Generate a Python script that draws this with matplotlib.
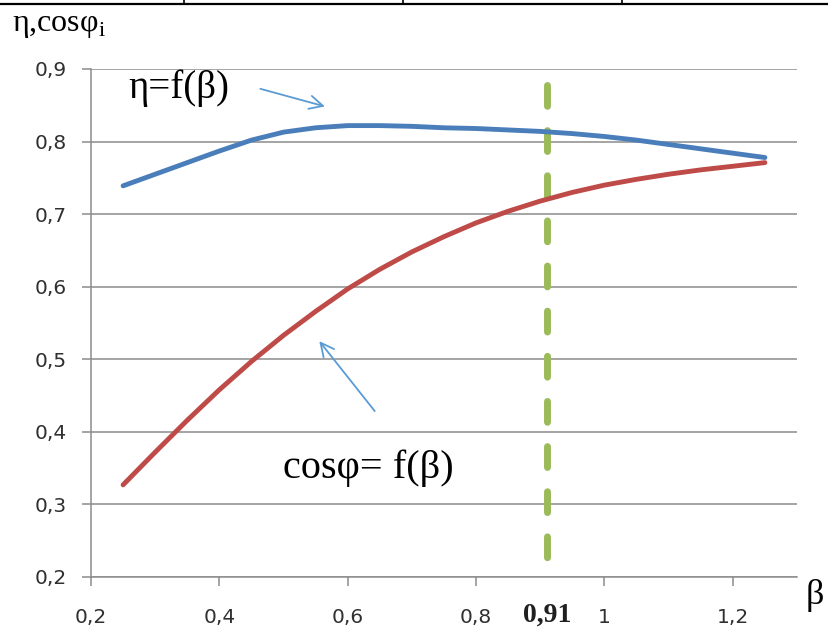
import numpy as np
import matplotlib
matplotlib.use("Agg")
import matplotlib.pyplot as plt
from matplotlib.lines import Line2D
import matplotlib.transforms as mtransforms

# values
beta = [0.25, 0.30, 0.35, 0.40, 0.45, 0.50, 0.55, 0.60, 0.65, 0.70, 0.75,
        0.80, 0.85, 0.90, 0.95, 1.00, 1.05, 1.10, 1.15, 1.20, 1.25]
eta = [0.739, 0.755, 0.771, 0.787, 0.802, 0.813, 0.819, 0.822, 0.822, 0.821, 0.819,
       0.818, 0.816, 0.814, 0.811, 0.807, 0.802, 0.796, 0.790, 0.784, 0.778]
cos_phi = [0.327, 0.372, 0.416, 0.458, 0.497, 0.533, 0.566, 0.597, 0.624, 0.648, 0.669,
           0.688, 0.704, 0.718, 0.730, 0.740, 0.748, 0.755, 0.761, 0.766, 0.771]
x_ticks = [0.2, 0.4, 0.6, 0.8, 1.0, 1.2]
x_tick_labels = ["0,2", "0,4", "0,6", "0,8", "1", "1,2"]
y_ticks = [0.2, 0.3, 0.4, 0.5, 0.6, 0.7, 0.8, 0.9]
y_tick_labels = ["0,2", "0,3", "0,4", "0,5", "0,6", "0,7", "0,8", "0,9"]
beta_opt = 0.91

plt.rcParams['mathtext.fontset'] = 'custom'
plt.rcParams['mathtext.rm'] = 'Liberation Serif'

BLUE = '#4a7ebb'
RED = '#be4b48'
GREEN = '#9bbb59'
GRID = '#8c8c8c'
ARROW = '#5b9bd5'
SERIF = 'Liberation Serif'
TICKFONT = 'DejaVu Sans'

fig = plt.figure(figsize=(8.29, 6.31), dpi=100)
ax = fig.add_axes([91 / 829, 1 - 577 / 631, (797 - 91) / 829, (577 - 69) / 631])

ax.set_xlim(0.2, 1.3)
ax.set_ylim(0.2, 0.9)

ax.set_yticks(y_ticks)
ax.set_yticklabels(y_tick_labels)
ax.set_xticks(x_ticks)
ax.set_xticklabels(x_tick_labels)
for lab in ax.get_xticklabels() + ax.get_yticklabels():
    lab.set_fontfamily(TICKFONT)
    lab.set_fontsize(14.5)
    lab.set_color('#303030')

ax.tick_params(axis='both', direction='out', length=6.5, width=1.1, color=GRID)
ax.tick_params(axis='y', pad=11)
ax.tick_params(axis='x', pad=16)

ax.grid(axis='y', color=GRID, linewidth=1.1)
ax.set_axisbelow(True)
for side in ['top', 'right']:
    ax.spines[side].set_visible(False)
for side in ['left', 'bottom']:
    ax.spines[side].set_color(GRID)
    ax.spines[side].set_linewidth(1.1)

ax.plot(beta, eta, color=BLUE, linewidth=3.5, solid_capstyle='round', zorder=3)
ax.plot(beta, cos_phi, color=RED, linewidth=3.5, solid_capstyle='round', zorder=3)

# vertical dashed line at the optimum load factor
ax.plot([beta_opt, beta_opt], [0.878, 0.2], color=GREEN, linewidth=5,
        linestyle=(0, (3.0, 3.5)), dash_capstyle='round', zorder=2)

trans = mtransforms.blended_transform_factory(ax.transData, ax.transAxes)
ax.text(beta_opt, -0.075, "0,91", transform=trans, ha='center', va='center',
        fontfamily=SERIF, fontweight='bold', fontsize=20, color='#202020')

# curve labels with arrows
ax.text(0.2575, 0.874, "η=f(β)", fontfamily=SERIF, fontsize=28, va='center', ha='left')
ax.annotate("", xy=(0.5686, 0.8474), xytext=(0.4597, 0.8737),
            arrowprops=dict(arrowstyle='->', color=ARROW, lw=1.3, mutation_scale=24))
ax.text(0.4986, 0.3495, "cosφ= f(β)", fontfamily=SERIF, fontsize=29, va='center', ha='left')
ax.annotate("", xy=(0.553, 0.528), xytext=(0.6448, 0.4256),
            arrowprops=dict(arrowstyle='->', color=ARROW, lw=1.3, mutation_scale=24))

# axis titles
fig.text(12 / 829, 1 - 25 / 631, r"η,cosφ$_{\rm i}$", fontfamily=SERIF, fontsize=23,
         va='center', ha='left')
fig.text(806 / 829, 1 - 596 / 631, "β", fontfamily=SERIF, fontsize=26,
         va='center', ha='left')

# table borders above the chart
fig.add_artist(Line2D([0, 1], [1 - 4 / 631, 1 - 4 / 631], color='black', linewidth=1.6,
                      transform=fig.transFigure))
for xp in [184, 403, 622]:
    fig.add_artist(Line2D([xp / 829, xp / 829], [1, 1 - 4 / 631], color='black',
                          linewidth=1.2, transform=fig.transFigure))

fig.savefig("out.png", dpi=100)
